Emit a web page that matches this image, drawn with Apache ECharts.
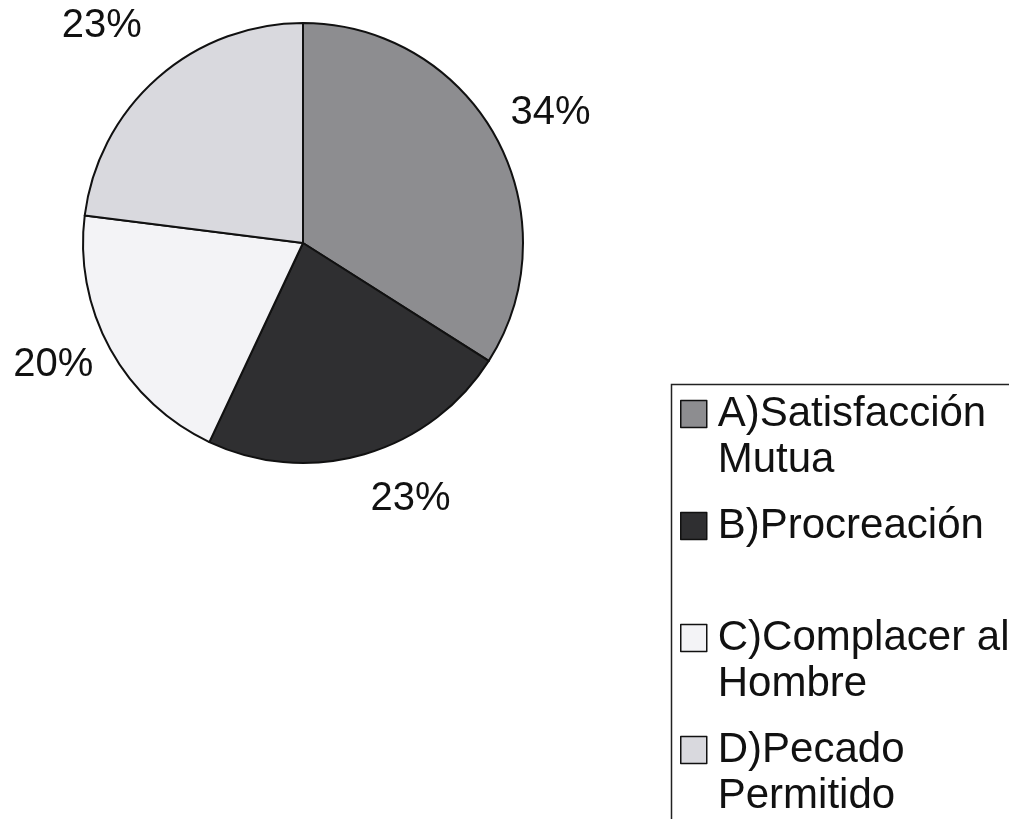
<!DOCTYPE html>
<html><head><meta charset="utf-8">
<script src="https://cdn.jsdelivr.net/npm/echarts@6/dist/echarts.min.js"></script>
<style>html,body{margin:0;padding:0;background:#fff}#c{width:1009px;height:819px}</style>
</head><body><div id="c"></div>
<script>
const categories = ['A)Satisfacción\nMutua', 'B)Procreación', 'C)Complacer al\nHombre', 'D)Pecado\nPermitido'];
const values = [34, 23, 20, 23];
const colors = ['#8d8d90', '#2f2f31', '#f3f3f6', '#d9d9de'];
// label leader geometry (style only, lines hidden)
const leadLen = [50, 47, 33, 69];
const leadLen2 = [-34, -12, -17, -35];

const chart = echarts.init(document.getElementById('c'), null, {renderer: 'canvas'});
const FONT = '"Liberation Sans", Arial, sans-serif';
chart.setOption({
  backgroundColor: '#ffffff',
  animation: false,
  legend: {
    orient: 'vertical',
    left: 680,
    top: 345,
    padding: 0,
    itemWidth: 26,
    itemHeight: 27,
    itemGap: -26,
    icon: 'rect',
    selectedMode: false,
    itemStyle: {borderColor: '#111', borderWidth: 1.5},
    formatter: function (n) { return '\u00a0\n' + (n.indexOf('\n') >= 0 ? n : n + '\n\u00a0'); },
    textStyle: {fontFamily: FONT, fontSize: 42, color: '#111', lineHeight: 46, padding: [0, 0, 0, 6]},
    data: categories
  },
  graphic: [{
    type: 'rect', left: 669, top: 382, silent: true,
    shape: {width: 400, height: 500},
    style: {fill: 'none', stroke: '#222', lineWidth: 1.5}
  }],
  series: [{
    type: 'pie',
    center: [303, 243],
    radius: 220,
    startAngle: 90,
    clockwise: true,
    data: categories.map((c, i) => ({
      name: c, value: values[i], itemStyle: {color: colors[i]},
      labelLine: {show: false, length: leadLen[i], length2: leadLen2[i]}
    })),
    itemStyle: {borderColor: '#111', borderWidth: 2},
    label: {
      show: true, position: 'outside', formatter: '{c}%', overflow: 'none', edgeDistance: 0,
      fontFamily: FONT, fontSize: 40, color: '#111'
    },
    labelLine: {show: false},
    emphasis: {disabled: true}
  }]
});
</script></body></html>
